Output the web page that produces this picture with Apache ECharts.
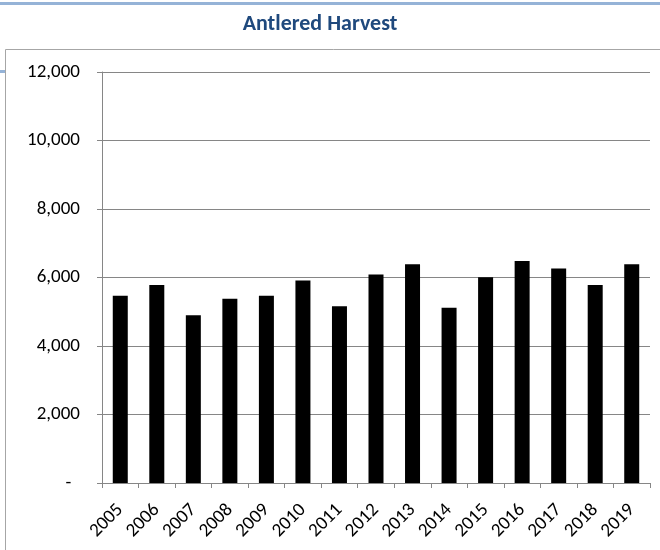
<!DOCTYPE html>
<html>
<head>
<meta charset="utf-8">
<script src="https://cdn.jsdelivr.net/npm/echarts@6/dist/echarts.min.js"></script>
<style>
  html, body { margin: 0; padding: 0; background: #fff; }
  #chart { width: 660px; height: 550px; }
</style>
</head>
<body>
<div id="chart"></div>
<script>
var years = ["2005", "2006", "2007", "2008", "2009", "2010", "2011", "2012",
  "2013", "2014", "2015", "2016", "2017", "2018", "2019"];
var harvest = [5470, 5780, 4900, 5380, 5470, 5910, 5160, 6090,
  6390, 5120, 6010, 6480, 6260, 5780, 6390];
var yTicks = [0, 2000, 4000, 6000, 8000, 10000, 12000];

var myecharts = echarts.init(document.getElementById("chart"));
var font = "Carlito, Lato, 'Liberation Sans', sans-serif";

function fmt(v) {
  if (v === 0) return "-  ";
  return v.toString().replace(/\B(?=(\d{3})+(?!\d))/g, ",");
}

myecharts.setOption({
  animation: false,
  title: {
    text: "Antlered Harvest",
    left: 315,
    top: 8,
    textAlign: "center",
    textStyle: { color: "#1f497d", fontSize: 22, fontWeight: "bold", fontFamily: font }
  },
  graphic: [
    { type: "rect", shape: { x: 0, y: 2, width: 660, height: 3 }, style: { fill: "#95b3d7" } },
    { type: "polyline", shape: { points: [[5.5, 560], [5.5, 49.5], [670, 49.5]] },
      style: { stroke: "#a6a6a6", lineWidth: 1, fill: null } },
    { type: "rect", shape: { x: 0, y: 70, width: 5, height: 3 }, style: { fill: "#95b3d7" } }
  ],
  grid: { left: 102, right: 10, top: 72, bottom: 67 },
  xAxis: {
    type: "category",
    data: years,
    boundaryGap: true,
    axisLine: { lineStyle: { color: "#868686" } },
    axisTick: { show: true, length: 5, lineStyle: { color: "#868686" } },
    axisLabel: { rotate: 45, color: "#000", fontSize: 19, fontFamily: font, margin: 24 }
  },
  yAxis: {
    type: "value",
    min: 0,
    max: 12000,
    interval: 2000,
    axisLine: { show: true, lineStyle: { color: "#868686" } },
    axisTick: { show: true, length: 5, lineStyle: { color: "#868686" } },
    splitLine: { lineStyle: { color: "#868686" } },
    axisLabel: { color: "#000", fontSize: 19, fontFamily: font, margin: 22, formatter: fmt }
  },
  series: [{
    type: "bar",
    data: harvest,
    barWidth: 15,
    itemStyle: { color: "#000" }
  }]
});
</script>
</body>
</html>
